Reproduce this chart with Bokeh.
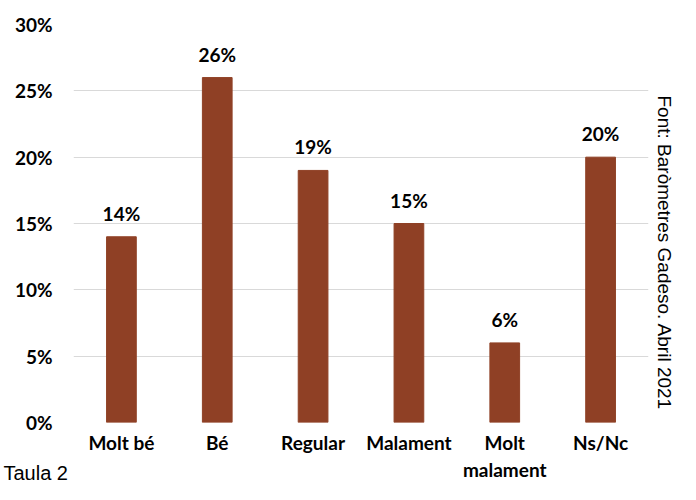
from bokeh.plotting import figure
from bokeh.models import Range1d, NumeralTickFormatter, FixedTicker, ColumnDataSource, LabelSet, Title
from bokeh.core.properties import value
from bokeh.embed import file_html
from bokeh.resources import INLINE

categories = ["Molt bé", "Bé", "Regular", "Malament", "Molt\nmalament", "Ns/Nc"]
values = [0.14, 0.26, 0.19, 0.15, 0.06, 0.20]
labels = ["14%", "26%", "19%", "15%", "6%", "20%"]
y_ticks = [0, 0.05, 0.10, 0.15, 0.20, 0.25, 0.30]
source_note = "Font: Baròmetres Gadeso. Abril 2021"
caption = "Taula 2"

BAR = "#8F4025"
FONT = "Lato"

p = figure(x_range=categories, y_range=Range1d(0, 0.30), width=680, height=484,
           output_backend="svg", toolbar_location=None,
           min_border_left=73, min_border_right=32, min_border_top=24, min_border_bottom=62)
p.outline_line_color = None
p.background_fill_color = "white"

src = ColumnDataSource(dict(x=categories, top=values, lab=labels))
p.vbar(x="x", top="top", width=0.31, color=BAR, source=src)
p.add_layout(LabelSet(x="x", y="top", text="lab", source=src, text_align="center",
                      text_baseline="bottom", y_offset=12, text_font=value(FONT),
                      text_font_style="bold", text_font_size="19px", text_color="black"))

p.yaxis.ticker = FixedTicker(ticks=y_ticks)
p.yaxis.formatter = NumeralTickFormatter(format="0%")
for ax in (p.xaxis[0], p.yaxis[0]):
    ax.axis_line_color = None
    ax.major_tick_line_color = None
    ax.minor_tick_line_color = None
    ax.major_tick_out = 0
    ax.major_tick_in = 0
    ax.minor_tick_out = 0
    ax.minor_tick_in = 0
    ax.major_label_text_font = FONT
    ax.major_label_text_font_style = "bold"
    ax.major_label_text_color = "black"
p.yaxis.major_label_text_font_size = "19px"
p.yaxis.major_label_standoff = 21
p.xaxis.major_label_text_font_size = "19px"
p.xaxis.major_label_standoff = 8

p.xgrid.grid_line_color = None
p.ygrid.grid_line_color = "#d9d9d9"
p.ygrid.grid_line_width = 1

p.add_layout(Title(text=source_note, align="left", offset=71, standoff=6,
                   vertical_align="top",
                   text_font="Liberation Sans", text_font_size="19px",
                   text_font_style="normal", text_color="black"), "right")
p.add_layout(Title(text=caption, align="left", offset=-70, standoff=-45,
                   vertical_align="top",
                   text_font="Liberation Sans", text_font_size="20px",
                   text_font_style="normal", text_color="black"), "below")

open("out.html", "w").write(file_html(p, INLINE))
